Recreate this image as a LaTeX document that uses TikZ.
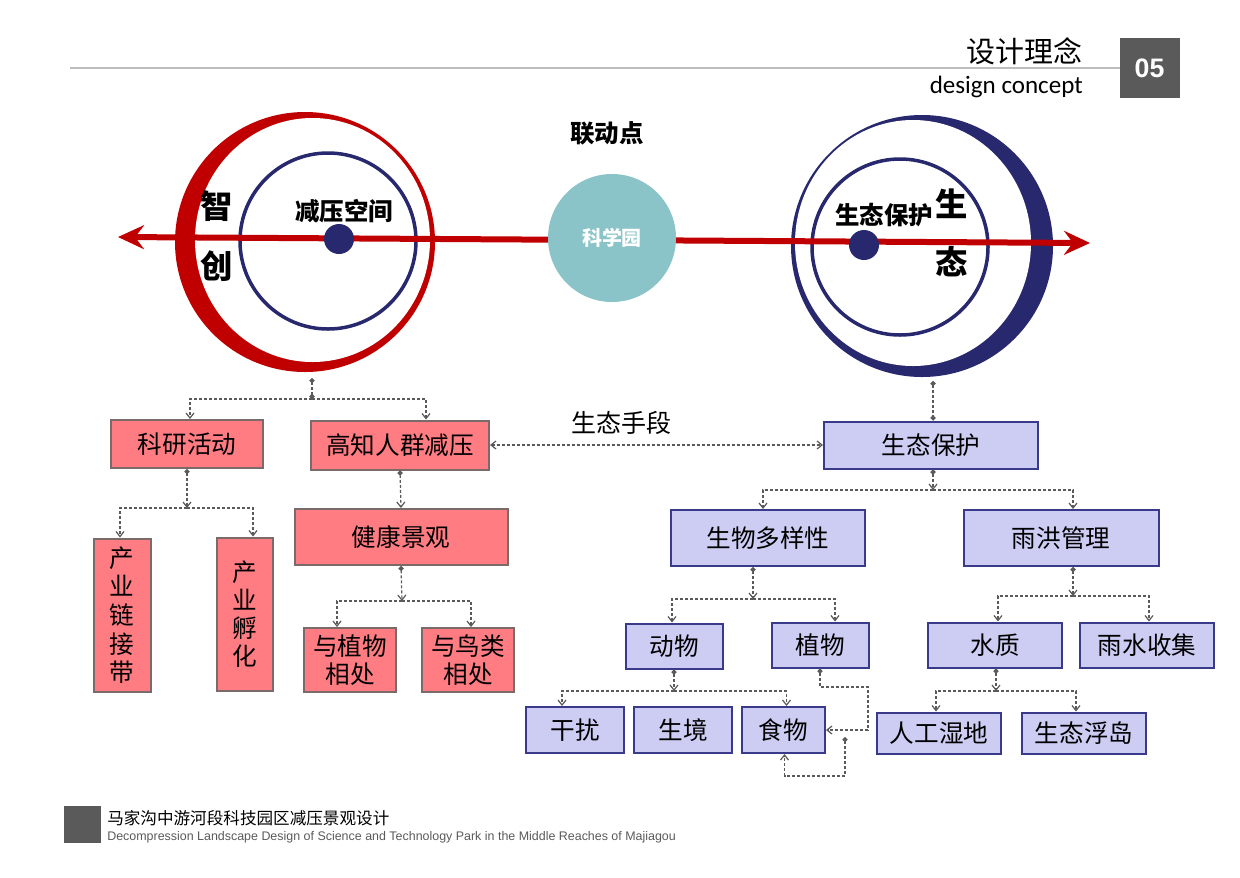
\documentclass[tikz,border=0pt]{standalone}
\usepackage{fontspec}
\setmainfont{Noto Sans CJK SC}
\newfontfamily\latinfont{Carlito}
\newfontfamily\arialfont{Liberation Sans}
\usepackage{xcolor}
\usetikzlibrary{arrows.meta, calc, positioning, shapes.geometric}
\definecolor{ringred}{RGB}{192,0,0}
\definecolor{ringnavy}{RGB}{40,40,110}
\definecolor{hubteal}{RGB}{138,196,200}
\definecolor{rosefill}{RGB}{255,124,130}
\definecolor{roseline}{RGB}{122,106,106}
\definecolor{lavfill}{RGB}{205,205,244}
\definecolor{lavline}{RGB}{58,58,138}
\definecolor{linkgray}{RGB}{90,90,90}
\definecolor{headgray}{RGB}{190,190,190}
\definecolor{badgegray}{RGB}{90,90,90}
\newdimen\pxu \pxu=0.025cm

\tikzset{
  pinkbox/.style={draw=roseline, fill=rosefill, line width=2\pxu, inner sep=0pt,
    align=center, font=\fontsize{17.5}{20}\selectfont},
  bluebox/.style={draw=lavline, fill=lavfill, line width=2\pxu, inner sep=0pt,
    align=center, font=\fontsize{17.5}{20}\selectfont},
  boldlabel/.style={font=\fontsize{17.4}{20}\selectfont\bfseries},
  biglabel/.style={font=\fontsize{23}{26}\selectfont\bfseries},
  link/.style={draw=linkgray, line width=1.2\pxu, dash pattern=on 3\pxu off 2\pxu},
  feed/.style={link, {Circle[length=3.6pt]}-{Straight Barb[length=3.6pt, width=5.7pt]}},
  branch/.style={link, -{Straight Barb[length=3.6pt, width=5.7pt]}},
  twodots/.style={link, {Circle[length=3.6pt]}-{Circle[length=3.6pt]}},
  twoway/.style={link, {Straight Barb[length=3.6pt, width=5.7pt]}-{Straight Barb[length=3.6pt, width=5.7pt]}}
}

\begin{document}
\begin{tikzpicture}[x=0.025cm, y=-0.025cm]
  \useasboundingbox (0,0) rectangle (1240,877);

  % Header
  \draw[headgray, line width=1.2\pxu] (70,68) -- (1120,68);
  \node[anchor=east, inner sep=0pt, font=\fontsize{20.6}{24}\selectfont] (title) at (1083,51) {设计理念};
  \node[anchor=east, inner sep=0pt, font=\latinfont\fontsize{17.8}{20}\selectfont] (subtitle) at (1083,87) {design concept};
  \node[fill=badgegray, minimum width=60\pxu, minimum height=60\pxu, inner sep=0pt,
    text=white, font=\arialfont\fontsize{19}{22}\selectfont\bfseries] (badge) at (1149.5,68) {05};

  % Left ring (zhi chuang)
  \node[circle, fill=ringred, minimum size=260\pxu, inner sep=0pt] (zhiring) at (305,242) {};
  \fill[white] (312.5,240) ellipse [x radius=117.5, y radius=122];
  \draw[ringnavy, line width=3.5\pxu] (328,241) circle [radius=88];

  % Right ring (sheng tai)
  \node[circle, fill=ringnavy, minimum size=262\pxu, inner sep=0pt] (shengring) at (922,246) {};
  \fill[white] (913,243) ellipse [x radius=118, y radius=123];
  \draw[ringnavy, line width=3.5\pxu] (900,247) circle [radius=88];

  % Axis
  \coordinate (axisw) at (118,237);
  \coordinate (axise) at (1090,243);
  \draw[ringred, line width=6\pxu, {Stealth[length=18.5pt, width=17pt, inset=6.4pt]}-{Stealth[length=18.5pt, width=17pt, inset=6.4pt]}]
    (axisw) -- (axise);

  % Centre dots
  \fill[ringnavy] (339,239) circle [radius=15];
  \fill[ringnavy] (864,245) circle [radius=15];

  % Link point
  \node[circle, fill=hubteal, minimum size=128\pxu, inner sep=0pt, text=white,
    font=\fontsize{14.2}{16}\selectfont\bfseries] (hub) at (612,238) {科学园};
  \node[boldlabel] (linklabel) at (607,133) {联动点};

  % Ring labels
  \node[boldlabel] (reliefspace) at (344,211) {减压空间};
  \node[biglabel] (zhi) at (217,206) {智};
  \node[biglabel] (chuang) at (217,266) {创};
  \node[boldlabel] (ecoprotect) at (884,215) {生态保护};
  \node[biglabel] (sheng) at (952,204) {生};
  \node[biglabel] (tai) at (952,262) {态};

  % Left tree
  \node[pinkbox, minimum width=152\pxu, minimum height=48\pxu] (sci) at (187,444) {科研活动};
  \node[pinkbox, minimum width=178\pxu, minimum height=49\pxu] (relief) at (400,445) {高知人群减压};
  \node[pinkbox, minimum width=213\pxu, minimum height=56\pxu] (health) at (401,537) {健康景观};
  \node[pinkbox, minimum width=57\pxu, minimum height=153\pxu, font=\fontsize{17.5}{20.4}\selectfont] (chain) at (122,615) {产\\业\\链\\接\\带};
  \node[pinkbox, minimum width=56\pxu, minimum height=153\pxu, font=\fontsize{17.5}{20}\selectfont] (incub) at (245,614) {产\\业\\孵\\化};
  \node[pinkbox, minimum width=92\pxu, minimum height=64\pxu] (plants) at (350,660) {与植物\\相处};
  \node[pinkbox, minimum width=92\pxu, minimum height=64\pxu] (birds) at (468,660) {与鸟类\\相处};

  % Right tree
  \node[bluebox, minimum width=214\pxu, minimum height=47\pxu] (eco) at (931,445) {生态保护};
  \node[bluebox, minimum width=194\pxu, minimum height=56\pxu] (bio) at (768,538) {生物多样性};
  \node[bluebox, minimum width=195\pxu, minimum height=56\pxu] (storm) at (1061,538) {雨洪管理};
  \node[bluebox, minimum width=97\pxu, minimum height=45\pxu] (animal) at (674,646) {动物};
  \node[bluebox, minimum width=97\pxu, minimum height=45\pxu] (plant) at (820,645) {植物};
  \node[bluebox, minimum width=98\pxu, minimum height=46\pxu] (disturb) at (575,730) {干扰};
  \node[bluebox, minimum width=98\pxu, minimum height=46\pxu] (habitat) at (683,730) {生境};
  \node[bluebox, minimum width=83\pxu, minimum height=46\pxu] (food) at (783.5,730) {食物};
  \node[bluebox, minimum width=134\pxu, minimum height=45\pxu] (water) at (995,645) {水质};
  \node[bluebox, minimum width=134\pxu, minimum height=45\pxu] (rain) at (1147,645) {雨水收集};
  \node[bluebox, minimum width=124\pxu, minimum height=41\pxu] (wetland) at (939,733) {人工湿地};
  \node[bluebox, minimum width=124\pxu, minimum height=41\pxu] (island) at (1084,733) {生态浮岛};

  % Connectors, left
  \coordinate (zhitap) at (312,378);
  \coordinate (zhisplit) at (312,399);
  \draw[twodots] (zhitap) -- (zhisplit);
  \draw[branch] (zhisplit) -| ([xshift=3\pxu]sci.north);
  \draw[branch] (zhisplit) -| ([xshift=26\pxu]relief.north);
  \coordinate (scisplit) at (187,508);
  \draw[feed] (sci.south) -- (scisplit);
  \draw[branch] (scisplit) -| ([xshift=-2\pxu]chain.north);
  \draw[branch] (scisplit) -| ([xshift=8\pxu]incub.north);
  \draw[feed] (relief.south) -- (health.north);
  \coordinate (healthsplit) at (402,601);
  \draw[feed] (health.south) -- (healthsplit);
  \draw[branch] (healthsplit) -| ([xshift=-13\pxu]plants.north);
  \draw[branch] (healthsplit) -| ([xshift=3\pxu]birds.north);

  % Connectors, middle
  \draw[twoway] (relief.east) -- (eco.west) node[pos=0.396, above=5\pxu, font=\fontsize{17.8}{20}\selectfont] (means) {生态手段};

  % Connectors, right
  \coordinate (shengtap) at (933,381);
  \draw[twodots] (shengtap) -- (shengtap |- eco.north);
  \coordinate (ecosplit) at (933,490);
  \draw[feed] ([xshift=2\pxu]eco.south) -- (ecosplit);
  \draw[branch] (ecosplit) -| ([xshift=-5\pxu]bio.north);
  \draw[branch] (ecosplit) -| ([xshift=12\pxu]storm.north);
  \coordinate (biosplit) at (753,599);
  \draw[feed] ([xshift=-15\pxu]bio.south) -- (biosplit);
  \draw[branch] (biosplit) -| ([xshift=-2\pxu]animal.north);
  \draw[branch] (biosplit) -| ([xshift=15\pxu]plant.north);
  \coordinate (stormsplit) at (1073,596);
  \draw[feed] ([xshift=12\pxu]storm.south) -- (stormsplit);
  \draw[branch] (stormsplit) -| ([xshift=3\pxu]water.north);
  \draw[branch] (stormsplit) -| ([xshift=2\pxu]rain.north);
  \coordinate (animalsplit) at (674,691);
  \draw[feed] (animal.south) -- (animalsplit);
  \draw[branch] (animalsplit) -| ([xshift=-13\pxu]disturb.north);
  \draw[branch] (animalsplit) -| ([xshift=3\pxu]food.north);
  \coordinate (plantbend) at (868,687);
  \draw[feed] (plant.south) |- (plantbend) |- (food.east);
  \coordinate (foodloop) at (845,737);
  \coordinate (loopfoot) at (845,776);
  \draw[feed] (foodloop) -- (loopfoot) -| ([xshift=1\pxu]food.south);
  \coordinate (watersplit) at (996,691);
  \draw[feed] ([xshift=1\pxu]water.south) -- (watersplit);
  \draw[branch] (watersplit) -| ([xshift=-3\pxu]wetland.north);
  \draw[branch] (watersplit) -| ([xshift=-8\pxu]island.north);

  % Footer
  \fill[badgegray] (64,806) rectangle (101,843);
  \node[anchor=west, inner sep=0pt, font=\fontsize{11.8}{14}\selectfont] (foottitle) at (107,818) {马家沟中游河段科技园区减压景观设计};
  \node[anchor=west, inner sep=0pt, text=linkgray, font=\arialfont\fontsize{8.85}{10}\selectfont] (footsub) at (107,837) {Decompression Landscape Design of Science and Technology Park in the Middle Reaches of Majiagou};
\end{tikzpicture}
\end{document}
